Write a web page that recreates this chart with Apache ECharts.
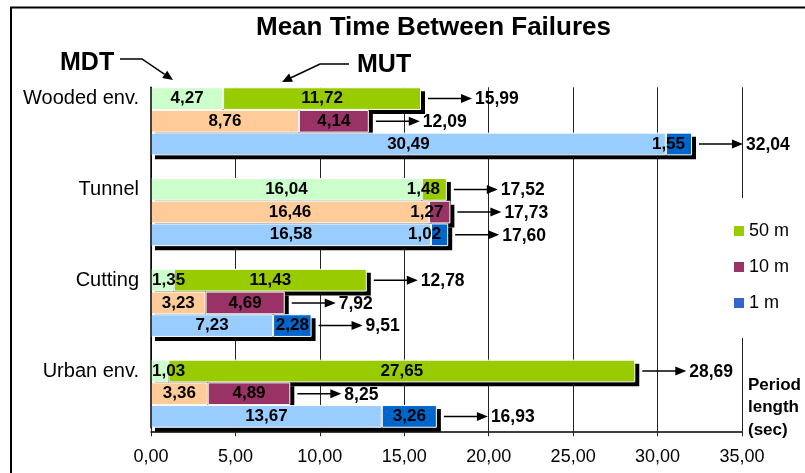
<!DOCTYPE html>
<html><head><meta charset="utf-8">
<script src="https://cdn.jsdelivr.net/npm/echarts@6/dist/echarts.min.js"></script>
<style>html,body{margin:0;padding:0;background:#fff}#c{width:805px;height:473px}</style>
</head><body><div id="c"></div>
<script>
// ---- data ----
const groups = ['Wooded env.', 'Tunnel', 'Cutting', 'Urban env.'];
const periods = ['50 m', '10 m', '1 m'];
const mdt50 = [4.27, 16.04, 1.35, 1.03];
const mut50 = [11.72, 1.48, 11.43, 27.65];
const mdt10 = [8.76, 16.46, 3.23, 3.36];
const mut10 = [4.14, 1.27, 4.69, 4.89];
const mdt1 = [30.49, 16.58, 7.23, 13.67];
const mut1 = [1.55, 1.02, 2.28, 3.26];
const total50 = ['15,99', '17,52', '12,78', '28,69'];
const total10 = ['12,09', '17,73', '7,92', '8,25'];
const total1 = ['32,04', '17,60', '9,51', '16,93'];
const xMin = 0, xMax = 35, xStep = 5;

// ---- layout helpers ----
const FONT = '"Liberation Sans", Arial, Helvetica, sans-serif';
const nRows = groups.length * 4 - 1;
const rowLabels = [];
for (let i = 0; i < nRows; i++) rowLabels.push(i % 4 === 0 ? groups[i / 4] : '');
const fmt = v => Number(v).toFixed(2).replace('.', ',');

function place(values, p, kind) {
  const arr = new Array(nRows).fill('-');
  values.forEach((v, g) => {
    const item = { value: v };
    if (v < 2) {
      item.label = kind === 'mdt'
        ? { position: 'insideLeft', distance: 1 }
        : { position: 'insideRight', distance: 7 };
    }
    arr[g * 4 + p] = item;
  });
  return arr;
}

const segLabel = {
  show: true, position: 'inside', color: '#000', fontWeight: 'bold',
  fontSize: 17, fontFamily: FONT,
  formatter: p => fmt(p.value)
};
function barSeries(name, values, p, kind, color) {
  return {
    name: name, type: 'bar', stack: 'all', barCategoryGap: '0%',
    itemStyle: { color: color, borderColor: '#fff', borderWidth: 1 },
    label: segLabel, emphasis: { disabled: true },
    data: place(values, p, kind), z: 2
  };
}

const sets = [
  { mdt: mdt50, mut: mut50, tot: total50, c1: '#CCFFCC', c2: '#99CC00' },
  { mdt: mdt10, mut: mut10, tot: total10, c1: '#FFCC99', c2: '#993366' },
  { mdt: mdt1, mut: mut1, tot: total1, c1: '#99CCFF', c2: '#0066CC' }
];

const totalData = [], totalText = [];
sets.forEach((s, p) => {
  groups.forEach((g, gi) => {
    totalData.push([s.mdt[gi] + s.mut[gi], gi * 4 + p]);
    totalText.push(s.tot[gi]);
  });
});

const series = [];
// drop shadow of each whole stacked bar, drawn behind all bars
series.push({
  type: 'custom', name: 'shadow', z: 1, silent: true,
  encode: { x: 0, y: 1 },
  data: totalData,
  renderItem: function (params, api) {
    const p0 = api.coord([0, api.value(1)]);
    const p1 = api.coord([api.value(0), api.value(1)]);
    const h = api.size([0, 1])[1];
    return { type: 'rect', shape: { x: p0[0] + 4, y: p0[1] - h / 2 + 4, width: p1[0] - p0[0], height: h }, style: { fill: '#000' } };
  }
});
sets.forEach((s, p) => {
  series.push(barSeries('MDT ' + periods[p], s.mdt, p, 'mdt', s.c1));
  series.push(barSeries(periods[p], s.mut, p, 'mut', s.c2));
});
series.push({
  type: 'custom', name: 'total', z: 5, silent: true,
  encode: { x: 0, y: 1 },
  data: totalData,
  renderItem: function (params, api) {
    const pt = api.coord([api.value(0), api.value(1)]);
    const x = pt[0], y = pt[1];
    return {
      type: 'group', children: [
        { type: 'line', shape: { x1: x + 7, y1: y, x2: x + 42, y2: y }, style: { stroke: '#000', lineWidth: 1.5 } },
        { type: 'polygon', shape: { points: [[x + 51, y], [x + 40, y - 4.5], [x + 40, y + 4.5]] }, style: { fill: '#000' } },
        { type: 'text', style: { x: x + 54, y: y + 1, text: totalText[params.dataIndex], fill: '#000',
          font: 'bold 17.5px ' + FONT, align: 'left', verticalAlign: 'middle' } }
      ]
    };
  }
});

const chart = echarts.init(document.getElementById('c'));
chart.setOption({
  animation: false,
  backgroundColor: '#fff',
  textStyle: { fontFamily: FONT },
  title: {
    text: 'Mean Time Between Failures', left: 256, top: 15, padding: 0,
    textStyle: { fontSize: 26, fontWeight: 'bold', color: '#000', fontFamily: FONT }
  },
  legend: {
    orient: 'vertical', left: 726, top: 198,
    padding: [24, 8, 26, 8],
    backgroundColor: '#fff',
    itemWidth: 10, itemHeight: 10, itemGap: 18,
    icon: 'rect',
    itemStyle: { borderWidth: 0 },
    textStyle: { fontSize: 18, color: '#000', fontFamily: FONT },
    data: [{ name: periods[0] }, { name: periods[1] }, { name: periods[2], itemStyle: { color: '#3366CC' } }],
    selectedMode: false
  },
  grid: { left: 151, right: 63, top: 87.25, height: 340.5 },
  xAxis: [{
    type: 'value', min: xMin, max: xMax, interval: xStep, offset: 3.5,
    axisLine: { show: true, lineStyle: { color: '#000', width: 1.5 } },
    axisTick: { show: true, inside: true, length: 4, lineStyle: { color: '#222' } },
    splitLine: { show: true, lineStyle: { color: '#222', width: 1 } },
    axisLabel: { color: '#000', fontSize: 18, margin: 17, fontFamily: FONT, formatter: v => fmt(v) }
  }, {
    type: 'value', min: xMin, max: xMax, interval: xStep, position: 'bottom', offset: 3.5,
    axisLine: { show: false },
    axisTick: { show: true, length: 5, lineStyle: { color: '#222' } },
    splitLine: { show: false }, axisLabel: { show: false }
  }],
  yAxis: {
    type: 'category', data: rowLabels, inverse: true, z: 3,
    axisLine: { show: true, lineStyle: { color: '#000', width: 1.5 } },
    axisTick: { show: false },
    axisLabel: { interval: 0, color: '#000', fontSize: 20, margin: 12, fontFamily: FONT }
  },
  graphic: [
    { type: 'rect', silent: true, shape: { x: 11, y: 7.5, width: 810, height: 480 }, style: { fill: 'none', stroke: '#000', lineWidth: 2 } },
    { type: 'text', x: 60, y: 63, style: { text: 'MDT', font: 'bold 25px ' + FONT, fill: '#000', align: 'left', verticalAlign: 'middle' } },
    { type: 'polyline', shape: { points: [[120, 59], [142, 59], [164.7, 74.4]] }, style: { stroke: '#000', lineWidth: 1.5, fill: 'none' } },
    { type: 'polygon', shape: { points: [[173, 80], [162.2, 78.1], [167.2, 70.7]] }, style: { fill: '#000' } },
    { type: 'text', x: 357, y: 65, style: { text: 'MUT', font: 'bold 25px ' + FONT, fill: '#000', align: 'left', verticalAlign: 'middle' } },
    { type: 'polyline', shape: { points: [[349, 64], [320, 64], [291, 77.7]] }, style: { stroke: '#000', lineWidth: 1.5, fill: 'none' } },
    { type: 'polygon', shape: { points: [[282, 82], [289.1, 73.6], [293, 81.8]] }, style: { fill: '#000' } },
    { type: 'text', x: 748, y: 374, style: { text: 'Period\nlength\n(sec)', font: 'bold 17px ' + FONT, lineHeight: 22.5, fill: '#000', align: 'left', verticalAlign: 'top' } }
  ],
  series: series
});
</script></body></html>
